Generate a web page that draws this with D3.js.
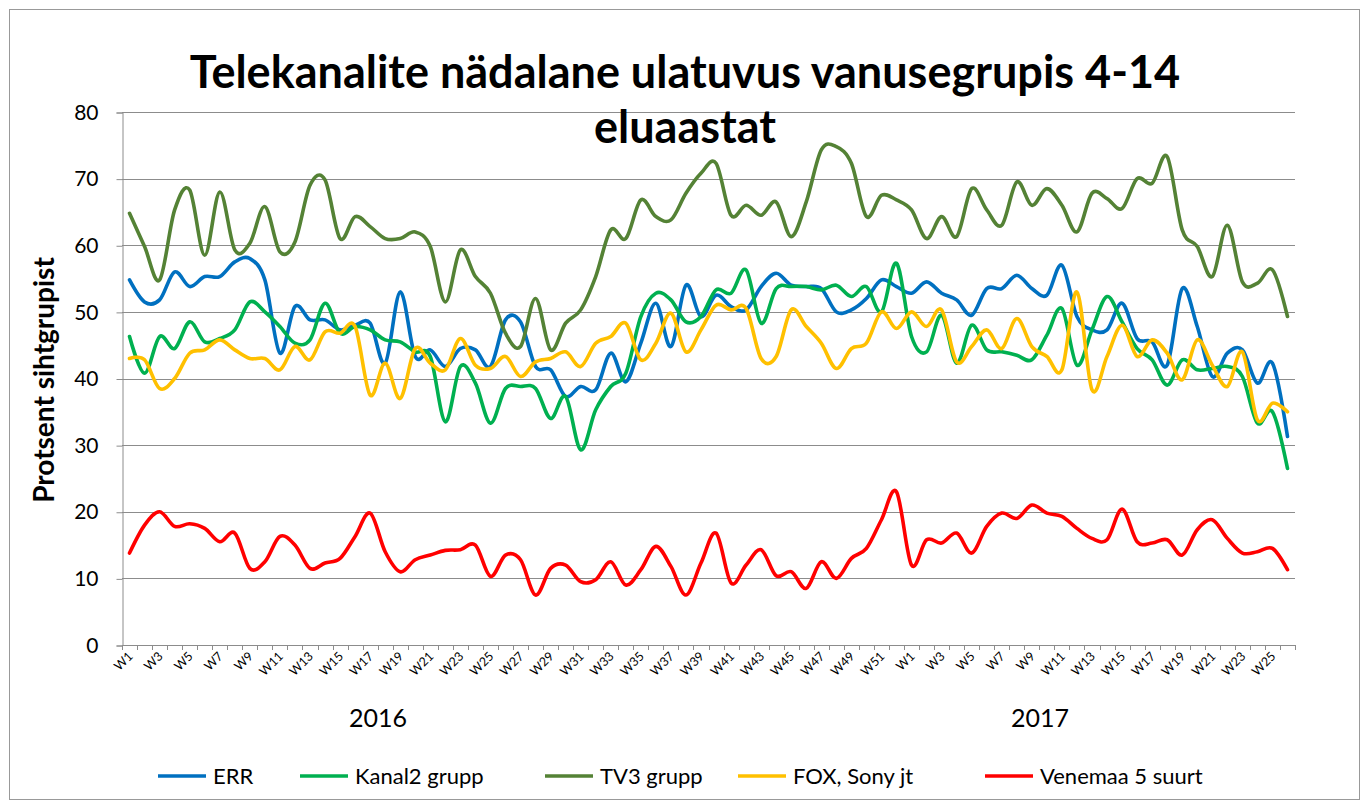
<!DOCTYPE html>
<html lang="et">
<head>
<meta charset="UTF-8">
<title>Telekanalite nädalane ulatuvus</title>
<script src="https://d3js.org/d3.v7.min.js"></script>
<style>
  body { margin: 0; background: #fff; }
  text { font-family: Lato, "Open Sans", sans-serif; fill: #000; }
</style>
</head>
<body>
<svg width="1369" height="800"></svg>
<script>
// nädalad: 2016 W1..W52, 2017 W1..W26
var weeks = ["W1","W2","W3","W4","W5","W6","W7","W8","W9","W10","W11","W12","W13","W14","W15","W16","W17","W18","W19","W20",
  "W21","W22","W23","W24","W25","W26","W27","W28","W29","W30","W31","W32","W33","W34","W35","W36","W37","W38","W39","W40",
  "W41","W42","W43","W44","W45","W46","W47","W48","W49","W50","W51","W52",
  "W1","W2","W3","W4","W5","W6","W7","W8","W9","W10","W11","W12","W13","W14","W15","W16","W17","W18","W19","W20",
  "W21","W22","W23","W24","W25","W26"];
var years = ["2016", "2017"];
var yTicks = [0, 10, 20, 30, 40, 50, 60, 70, 80];

var err = [54.8,51.5,51.8,56,53.8,55.3,55.3,57.5,58,54.8,43.8,50.8,48.8,48.8,47.3,48,48.3,42.3,53,43.3,
  44.3,41.8,44.5,44.3,41.8,48.8,48.5,41.8,41.3,37.3,38.8,38.3,43.8,39.5,45.3,51.3,44.8,54,49.3,52.5,
  50.8,50.3,53.8,55.8,54,53.8,53.5,50,50.3,52,54.8,53.8,
  52.8,54.5,52.8,51.8,49.5,53.5,53.5,55.5,53.5,52.5,57,49.3,47.3,47.3,51.3,46,45.5,42,53.5,47.8,
  40.3,43.8,44.3,39.3,42.3,31.3];
var kanal2 = [46.3,40.8,46.3,44.5,48.5,45.5,46,47.3,51.5,50,47.8,45.3,45.8,51.3,46.8,47.8,47.3,45.8,45.5,44,
  43.3,33.5,41.8,39.3,33.3,38.5,38.8,38.5,34,37.3,29.3,35.3,38.8,40.8,49.3,52.8,51.8,48.5,49.3,53.3,
  52.8,56.3,48.3,53.5,53.8,53.8,53.3,54,52.3,53.8,50,57.3,
  46.3,44,49.5,42.3,48,44.3,44,43.5,42.8,46.5,50.5,42,47.3,52.3,48.5,44.5,42.8,39,42.8,41.3,
  41.5,41.8,40.3,33.3,35,26.5];
var tv3 = [64.8,59.8,54.8,65.3,68.3,58.5,68,59.3,60.3,65.8,59,60.5,69,69.8,61,64.3,62.8,61,61,62,
  59.8,51.5,59.3,55.3,52.8,46.8,44.8,52,44.3,48.3,50.3,55.3,62.3,61,66.8,64.3,63.8,67.8,70.8,72.3,
  64.5,66,64.5,66.5,61.3,66.5,74.3,74.8,72.3,64.3,67.5,66.8,
  65.3,61,64.3,61.3,68.5,65.3,63,69.5,66,68.5,66,62,67.8,67,65.5,70,69.3,73.3,62.3,59.8,
  55.3,63,54.5,54.3,56.3,49.3];
var fox = [43,42.8,38.5,40,43.8,44.3,45.8,44.3,43,43,41.3,44.8,42.8,47,46.8,47.8,37.5,42.3,37,44.5,
  42.3,41.3,46,42,41.5,43.3,40.3,42.5,43,44,41.8,45.3,46.3,48.3,42.8,45.3,49.8,44,47.3,51,
  50.3,50.5,43,43.3,50.3,47.8,45.3,41.5,44.5,45.3,50,47.5,
  50,47.8,50.3,42.5,44.8,47.3,44.5,49,44.8,43.3,41.3,53,38.3,43.3,48,43.3,45.8,43.8,39.8,45.8,
  42,38.8,44,33.8,36.3,35];
var venemaa = [13.8,18,20,17.8,18.2,17.5,15.5,16.8,11.5,12.5,16.3,15,11.5,12.3,13,16.3,19.8,14,11,12.8,
  13.5,14.2,14.3,15,10.3,13.5,12.8,7.5,11.5,12,9.5,9.8,12.5,9,11.3,14.8,11.8,7.5,12.3,16.8,
  9.3,12,14.3,10.4,11,8.5,12.5,10,13,14.5,18.8,23,
  12,15.8,15.3,16.8,13.8,17.8,19.8,19,21,19.8,19.3,17.5,16,15.8,20.4,15.5,15.3,15.8,13.5,17.3,
  18.8,16,13.8,14,14.5,11.3];

var seriesNames = ["ERR", "Kanal2 grupp", "TV3 grupp", "FOX, Sony jt", "Venemaa 5 suurt"];
var seriesColors = ["#0070C0", "#00B050", "#548235", "#FFC000", "#FF0000"];
var seriesValues = [err, kanal2, tv3, fox, venemaa];

var svg = d3.select("svg");
var margin = {left: 122, right: 1295, top: 112, bottom: 645};

// raam ümber kogu graafiku
svg.append("rect")
   .attr("x", 9.5).attr("y", 9.5)
   .attr("width", 1350).attr("height", 790)
   .attr("fill", "none").attr("stroke", "#999").attr("stroke-width", 1);

var x = d3.scaleBand()
          .domain(d3.range(weeks.length))
          .range([margin.left, margin.right]);
var y = d3.scaleLinear().domain([0, 80]).range([margin.bottom, margin.top]);

// ruudustik
svg.append("g").selectAll("line")
   .data(yTicks.slice(1))
   .enter().append("line")
   .attr("x1", margin.left).attr("x2", margin.right)
   .attr("y1", function(d) { return Math.round(y(d)) + 0.5; })
   .attr("y2", function(d) { return Math.round(y(d)) + 0.5; })
   .attr("stroke", "#8c8c8c").attr("stroke-width", 1);

// y telg
var yAxis = svg.append("g")
   .attr("transform", "translate(" + (margin.left + 0.5) + ",0.5)")
   .call(d3.axisLeft(y).tickValues(yTicks).tickSize(6).tickPadding(18));
yAxis.select(".domain").attr("stroke", "#8c8c8c");
yAxis.selectAll(".tick line").attr("stroke", "#8c8c8c");
yAxis.selectAll(".tick text").style("font-size", "21px").attr("fill", "#000");

// x telg
var xAxisG = svg.append("g");
xAxisG.append("line")
   .attr("x1", margin.left).attr("x2", margin.right)
   .attr("y1", margin.bottom + 0.5).attr("y2", margin.bottom + 0.5)
   .attr("stroke", "#8c8c8c");
xAxisG.selectAll(".xtick")
   .data(d3.range(weeks.length + 1))
   .enter().append("line")
   .attr("x1", function(d) { return Math.round(margin.left + d * x.step()) + 0.5; })
   .attr("x2", function(d) { return Math.round(margin.left + d * x.step()) + 0.5; })
   .attr("y1", margin.bottom).attr("y2", margin.bottom + 5)
   .attr("stroke", "#8c8c8c");
xAxisG.selectAll(".xlab")
   .data(d3.range(0, weeks.length, 2))
   .enter().append("text")
   .attr("transform", function(d) {
       return "translate(" + (x(d) + x.bandwidth() / 2 + 4) + "," + (margin.bottom + 12) + ") rotate(-45)";
   })
   .attr("text-anchor", "end")
   .style("font-size", "12.5px")
   .text(function(d) { return weeks[d]; });

// aastad
svg.selectAll(".year")
   .data(years)
   .enter().append("text")
   .attr("x", function(d, i) { return i == 0 ? 378 : 1040; })
   .attr("y", 727)
   .attr("text-anchor", "middle")
   .style("font-size", "25px")
   .text(function(d) { return d; });

// jooned
var line = d3.line()
   .x(function(d, i) { return x(i) + x.bandwidth() / 2; })
   .y(function(d) { return y(d); })
   .curve(d3.curveCatmullRom.alpha(0));

svg.append("g").selectAll("path")
   .data(seriesValues)
   .enter().append("path")
   .attr("d", line)
   .attr("fill", "none")
   .attr("stroke", function(d, i) { return seriesColors[i]; })
   .attr("stroke-width", 3.6)
   .attr("stroke-linejoin", "round")
   .attr("stroke-linecap", "round");

// pealkiri
svg.append("text")
   .attr("x", 685).attr("y", 88)
   .attr("text-anchor", "middle")
   .style("font-size", "45px").style("font-weight", "bold")
   .text("Telekanalite nädalane ulatuvus vanusegrupis 4-14");
svg.append("text")
   .attr("x", 685).attr("y", 143)
   .attr("text-anchor", "middle")
   .style("font-size", "45px").style("font-weight", "bold")
   .text("eluaastat");

// y telje pealkiri
svg.append("text")
   .attr("transform", "translate(54,380) rotate(-90)")
   .attr("text-anchor", "middle")
   .style("font-size", "28px").style("font-weight", "bold")
   .text("Protsent sihtgrupist");

// legend
var legendX = [158, 300, 545, 738, 985];
var legend = svg.append("g").selectAll("g")
   .data(seriesNames)
   .enter().append("g")
   .attr("transform", function(d, i) { return "translate(" + legendX[i] + ",776)"; });
legend.append("line")
   .attr("x1", 0).attr("x2", 48)
   .attr("stroke", function(d, i) { return seriesColors[i]; })
   .attr("stroke-width", 3.6);
legend.append("text")
   .attr("x", 55).attr("y", 8)
   .style("font-size", "22px")
   .text(function(d) { return d; });
</script>
</body>
</html>
